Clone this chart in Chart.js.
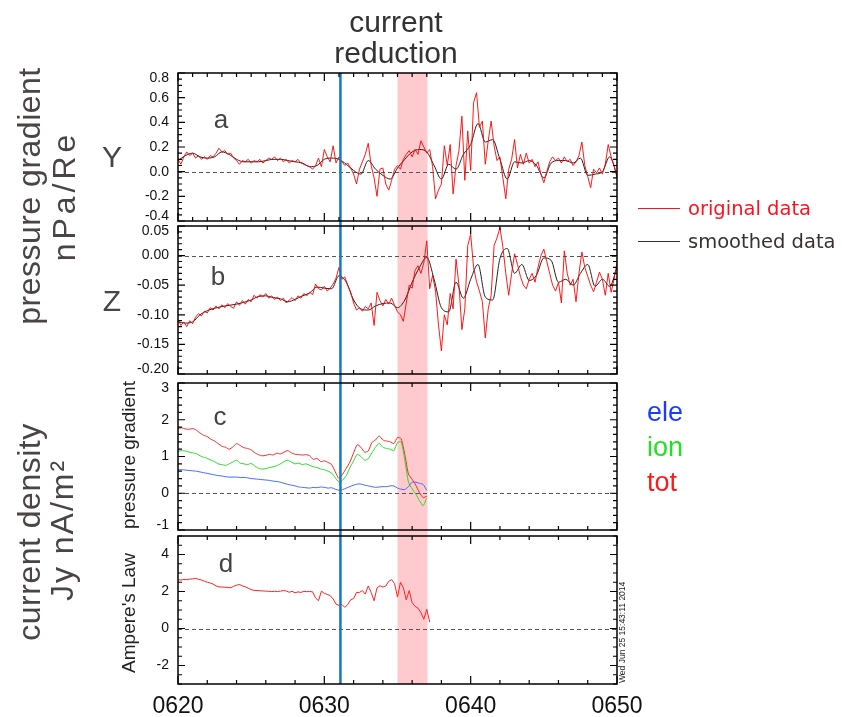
<!DOCTYPE html>
<html>
<head>
<meta charset="utf-8">
<script src="https://cdn.jsdelivr.net/npm/chart.js@4.4.2/dist/chart.umd.min.js"></script>
<style>
  html, body { margin: 0; padding: 0; background: #fff; }
  #wrap { position: relative; width: 842px; height: 717px; }
  #wrap canvas { position: absolute; left: 0; top: 0; }
</style>
</head>
<body>
<div id="wrap">
  <canvas id="pa" width="842" height="717"></canvas>
  <canvas id="pb" width="842" height="717"></canvas>
  <canvas id="pc" width="842" height="717"></canvas>
  <canvas id="pd" width="842" height="717"></canvas>
</div>
<script>
// minutes after 06:20 between samples
const STEP_ORIG = 0.2;
const STEP_SMOOTH = 0.5;
const STEP_PG = 0.25;

// panel a: Y pressure gradient, original and smoothed (nPa/Re)
const origY = [
  0.10, 0.06, 0.12, 0.16, 0.13, 0.15, 0.11, 0.13, 0.10, 0.12,
  0.10, 0.13, 0.12, 0.15, 0.19, 0.16, 0.17, 0.14, 0.15, 0.11,
  0.09, 0.06, 0.09, 0.08, 0.10, 0.07, 0.09, 0.08, 0.10, 0.07,
  0.09, 0.11, 0.10, 0.12, 0.09, 0.11, 0.08, 0.10, 0.07, 0.09,
  0.08, 0.10, 0.07, 0.06, 0.05, 0.04, 0.02, 0.05, 0.11, 0.04,
  0.18, 0.12, 0.08, 0.21, 0.07, 0.12, 0.08, 0.05, 0.07, 0.03,
  -0.02, -0.10, 0.02, 0.08, 0.14, 0.23, 0.05, -0.05, -0.20, 0.02,
  0.03, -0.10, -0.15, -0.07, 0.02, 0.05, 0.02, 0.10, 0.14, 0.17,
  0.12, 0.18, 0.14, 0.25, 0.20, 0.15, 0.18, 0.04, -0.22, -0.15,
  -0.10, 0.21, 0.05, 0.22, -0.18, 0.05, 0.17, 0.45, -0.07, 0.33,
  0.01, 0.56, 0.64, 0.36, 0.41, 0.06, 0.25, 0.41, 0.21, 0.09,
  0.12, -0.05, -0.22, 0.02, 0.10, 0.26, 0.03, 0.14, 0.06, 0.15,
  0.07, 0.10, 0.04, 0.08, -0.02, -0.09, 0.00, 0.08, 0.12, 0.09,
  0.11, 0.07, 0.12, 0.08, 0.10, 0.05, 0.08, 0.13, 0.24, 0.05,
  -0.04, -0.13, 0.02, -0.01, 0.03, -0.02, 0.06, 0.22, 0.12, 0.05,
  -0.05
];
const smoothY = [
  0.09, 0.13, 0.15, 0.12, 0.11, 0.12, 0.16, 0.14, 0.10, 0.08,
  0.08, 0.08, 0.09, 0.10, 0.10, 0.09, 0.08, 0.07, 0.04, 0.05,
  0.10, 0.11, 0.10, 0.06, 0.01, -0.02, 0.09, 0.02, -0.03, -0.06,
  0.03, 0.10, 0.16, 0.18, 0.16, 0.05, -0.06, 0.06, 0.02, 0.14,
  0.22, 0.39, 0.24, 0.26, 0.10, -0.06, 0.08, 0.07, 0.09, 0.05,
  -0.05, 0.07, 0.09, 0.09, 0.07, 0.11, -0.03, -0.02, 0.00, 0.12,
  -0.03
];

// panel b: Z pressure gradient
const origZ = [
  -0.108, -0.118, -0.112, -0.120, -0.110, -0.115, -0.104, -0.098, -0.102, -0.094,
  -0.097, -0.088, -0.092, -0.085, -0.090, -0.083, -0.088, -0.081, -0.086, -0.089,
  -0.078, -0.084, -0.076, -0.082, -0.074, -0.078, -0.067, -0.072, -0.066, -0.070,
  -0.064, -0.072, -0.068, -0.074, -0.070, -0.076, -0.072, -0.080, -0.075, -0.071,
  -0.076, -0.068, -0.072, -0.064, -0.068, -0.062, -0.066, -0.048, -0.056, -0.058,
  -0.052, -0.060, -0.055, -0.048, -0.038, -0.020, -0.040, -0.036, -0.050, -0.062,
  -0.080, -0.092, -0.088, -0.094, -0.086, -0.090, -0.080, -0.118, -0.062, -0.076,
  -0.085, -0.074, -0.082, -0.072, -0.084, -0.095, -0.100, -0.111, -0.080, -0.050,
  -0.055, -0.025, -0.017, -0.030, -0.012, 0.025, -0.056, -0.033, -0.060, -0.117,
  -0.161, -0.100, -0.117, -0.064, -0.090, -0.006, -0.050, -0.125, -0.090, 0.017,
  0.036, -0.020, -0.044, -0.060, -0.078, -0.139, -0.090, -0.067, 0.017, 0.030,
  0.047, 0.015, -0.030, -0.067, -0.030, 0.003, -0.015, -0.035, -0.050, -0.056,
  -0.040, -0.030, -0.045, -0.020, 0.000, 0.011, -0.010, -0.030, -0.050, -0.060,
  -0.045, -0.080, 0.008, -0.030, -0.050, -0.040, -0.078, -0.030, 0.006, -0.020,
  -0.035, -0.050, -0.061, -0.045, -0.028, -0.040, -0.067, -0.030, -0.062, -0.040,
  -0.011
];
const smoothZ = [
  -0.112, -0.114, -0.112, -0.100, -0.093, -0.089, -0.086, -0.084, -0.082, -0.079,
  -0.075, -0.069, -0.068, -0.071, -0.073, -0.078, -0.074, -0.068, -0.063, -0.053,
  -0.055, -0.056, -0.034, -0.045, -0.075, -0.090, -0.092, -0.085, -0.081, -0.080,
  -0.088, -0.075, -0.045, -0.020, -0.003, -0.040, -0.088, -0.095, -0.045, -0.072,
  -0.040, -0.015, -0.070, -0.075, -0.005, 0.012, -0.030, -0.015, -0.042, -0.033,
  -0.004, -0.008, -0.045, -0.040, -0.050, -0.030, -0.015, -0.052, -0.040, -0.052,
  -0.020
];

// panel c: current density from pressure gradient (nA/m^2)
const pgTot = [
  1.76, 1.78, 1.75, 1.74, 1.76, 1.72, 1.64, 1.58, 1.54, 1.47,
  1.42, 1.35, 1.28, 1.25, 1.20, 1.26, 1.35, 1.30, 1.24, 1.22,
  1.18, 1.10, 1.05, 1.02, 1.03, 1.06, 1.04, 1.09, 1.07, 1.12,
  1.16, 1.10, 1.06, 1.05, 1.04, 1.05, 1.02, 0.92, 0.95, 0.86,
  0.88, 0.84, 0.78, 0.58, 0.40, 0.52, 0.68, 0.85, 1.10, 1.32,
  1.25, 1.12, 1.15, 1.38, 1.45, 1.56, 1.45, 1.42, 1.40, 1.35,
  1.52, 1.48, 1.05, 0.52, 0.38, 0.22, 0.02, -0.12,
  -0.08
];
const pgIon = [
  1.14, 1.16, 1.15, 1.12, 1.10, 1.08, 1.02, 0.98, 0.95, 0.90,
  0.86, 0.80, 0.78, 0.76, 0.80, 0.85, 0.90, 0.82, 0.80, 0.78,
  0.81, 0.74, 0.68, 0.66, 0.67, 0.70, 0.72, 0.75, 0.80, 0.86,
  0.90, 0.85, 0.80, 0.82, 0.78, 0.80, 0.76, 0.72, 0.70, 0.66,
  0.64, 0.60, 0.55, 0.42, 0.31, 0.36, 0.48, 0.70, 0.88, 1.06,
  1.00, 0.90, 0.94, 1.10, 1.25, 1.36, 1.25, 1.22, 1.20, 1.16,
  1.38, 1.40, 0.90, 0.30, 0.12, -0.02, -0.20, -0.34,
  -0.12
];
const pgEle = [
  0.64, 0.64, 0.63, 0.62, 0.61, 0.60, 0.58, 0.56, 0.54, 0.52,
  0.50, 0.48, 0.47, 0.45, 0.44, 0.44, 0.44, 0.43, 0.43, 0.42,
  0.40, 0.39, 0.38, 0.37, 0.36, 0.35, 0.33, 0.32, 0.30, 0.27,
  0.24, 0.22, 0.20, 0.17, 0.16, 0.15, 0.14, 0.16, 0.15, 0.17,
  0.16, 0.14, 0.15, 0.11, 0.08, 0.10, 0.14, 0.18, 0.22, 0.25,
  0.25, 0.22, 0.20, 0.18, 0.16, 0.17, 0.18, 0.18, 0.20, 0.20,
  0.14, 0.11, 0.10, 0.18, 0.30, 0.30, 0.27, 0.24,
  0.08
];

// panel d: current density from Ampere's law (nA/m^2)
const ampereJy = [
  2.64, 2.62, 2.65, 2.64, 2.67, 2.68, 2.71, 2.66, 2.62, 2.56,
  2.50, 2.46, 2.40, 2.30, 2.25, 2.24, 2.23, 2.22, 2.20, 2.28,
  2.34, 2.38, 2.30, 2.25, 2.18, 2.10, 2.06, 2.05, 2.04, 2.03,
  2.02, 2.01, 2.00, 2.01, 2.00, 2.02, 2.05, 2.03, 1.96, 2.01,
  1.93, 1.98, 1.95, 2.01, 1.99, 2.00, 1.98, 1.65, 1.50, 2.02,
  1.90, 1.84, 1.78, 1.60, 1.32, 1.25, 1.30, 1.14, 1.30, 1.55,
  1.62, 1.95, 1.95, 2.05, 1.86, 2.30, 1.95, 1.50, 2.20, 2.31,
  2.24, 2.30, 2.55, 2.64, 2.42, 1.70, 2.50, 2.20, 1.55, 2.05,
  1.40, 1.20, 1.10, 0.86, 0.50, 1.04, 0.35
];

const xTickMinutes = [0, 10, 20, 30];
const xTickLabels = ['0620', '0630', '0640', '0650'];
const yTicksA = [-0.4, -0.2, 0.0, 0.2, 0.4, 0.6, 0.8];
const yTicksB = [-0.20, -0.15, -0.10, -0.05, 0.00, 0.05];
const yTicksC = [-1, 0, 1, 2, 3];
const yTicksD = [-2, 0, 2, 4];

const onsetMinute = 11.1;
const reductionStart = 15.0;
const reductionEnd = 17.05;

const FONT = '"Liberation Sans", Arial, Helvetica, sans-serif';

const toXY = (vals, step) => vals.map((v, i) => ({ x: i * step, y: v }));

function vText(ctx, str, x, y, align, spacing) {
  ctx.save();
  ctx.translate(x, y);
  ctx.rotate(-Math.PI / 2);
  ctx.textAlign = align || 'center';
  ctx.letterSpacing = (spacing || 0) + 'px';
  ctx.fillText(str, 0, 0);
  ctx.restore();
}

function drawPage(ctx) {
  ctx.save();
  ctx.textBaseline = 'alphabetic';

  ctx.fillStyle = '#333';
  ctx.font = '30px ' + FONT;
  ctx.textAlign = 'center';
  ctx.fillText('current', 396, 32);
  ctx.fillText('reduction', 396, 63);

  ctx.fillStyle = '#4a4444';
  ctx.font = '32px ' + FONT;
  vText(ctx, 'pressure gradient', 40, 196, 'center', 0.5);
  vText(ctx, 'nPa/Re', 75, 196, 'center', 4);
  vText(ctx, 'current density', 40, 532, 'center', 0.5);
  vText(ctx, 'Jy nA/m²', 73, 530, 'center', 2);

  ctx.font = '30px ' + FONT;
  ctx.textAlign = 'center';
  ctx.fillText('Y', 112, 167);
  ctx.fillText('Z', 112, 311);

  ctx.fillStyle = '#222';
  ctx.font = '19px ' + FONT;
  vText(ctx, 'pressure gradient', 135, 455);
  vText(ctx, "Ampere's Law", 135, 613);

  ctx.fillStyle = '#444';
  ctx.font = '26px ' + FONT;
  ctx.textAlign = 'center';
  ctx.fillText('a', 221, 128);
  ctx.fillText('b', 218, 285);
  ctx.fillText('c', 220, 425);
  ctx.fillText('d', 226, 572);

  ctx.textAlign = 'left';
  ctx.font = '27px ' + FONT;
  ctx.fillStyle = '#1a3cff';
  ctx.fillText('ele', 647, 421);
  ctx.fillStyle = '#22e022';
  ctx.fillText('ion', 647, 456);
  ctx.fillStyle = '#ff1a1a';
  ctx.fillText('tot', 647, 491);

  ctx.lineWidth = 1;
  ctx.strokeStyle = '#ff1020';
  ctx.beginPath(); ctx.moveTo(638, 208.5); ctx.lineTo(680, 208.5); ctx.stroke();
  ctx.strokeStyle = '#3a3030';
  ctx.beginPath(); ctx.moveTo(638, 241.5); ctx.lineTo(680, 241.5); ctx.stroke();
  ctx.font = '19.5px "DejaVu Sans", sans-serif';
  ctx.fillStyle = '#ff1020';
  ctx.fillText('original data', 688, 215);
  ctx.fillStyle = '#3a3030';
  ctx.fillText('smoothed data', 688, 248);

  ctx.fillStyle = '#222';
  ctx.font = '8.5px ' + FONT;
  vText(ctx, 'Wed Jun 25 15:43:11 2014', 625, 683, 'left');
  ctx.restore();
}

function panelPlugin(p) {
  return {
    id: 'panel_' + p.name,
    beforeDatasetsDraw(chart) {
      const { ctx, chartArea: a, scales: { x, y } } = chart;
      ctx.save();
      const bx0 = x.getPixelForValue(reductionStart);
      const bx1 = x.getPixelForValue(reductionEnd);
      ctx.fillStyle = '#ffcacd';
      ctx.fillRect(bx0, a.top, bx1 - bx0, p.below - a.top);
      const y0 = Math.round(y.getPixelForValue(0)) + 0.5;
      ctx.strokeStyle = '#555';
      ctx.lineWidth = 1;
      ctx.setLineDash([4, 3]);
      ctx.beginPath();
      ctx.moveTo(a.left, y0);
      ctx.lineTo(a.right, y0);
      ctx.stroke();
      ctx.restore();
    },
    afterDatasetsDraw(chart) {
      const { ctx, chartArea: a, scales: { x, y } } = chart;
      ctx.save();
      // onset line
      const ox = x.getPixelForValue(onsetMinute);
      ctx.strokeStyle = '#1479bd';
      ctx.lineWidth = 2.5;
      ctx.beginPath();
      ctx.moveTo(ox, a.top);
      ctx.lineTo(ox, p.below);
      ctx.stroke();

      // frame
      ctx.strokeStyle = '#000';
      ctx.lineWidth = 1.5;
      ctx.strokeRect(a.left, a.top, a.right - a.left, a.bottom - a.top);

      // y ticks, both sides, pointing in
      ctx.lineWidth = 1.2;
      ctx.beginPath();
      const n = Math.round((p.max - p.min) / p.minor);
      for (let i = 0; i <= n; i++) {
        const v = p.min + i * p.minor;
        const r = v / p.major;
        const len = Math.abs(r - Math.round(r)) < 1e-6 ? 7 : 4;
        const py = y.getPixelForValue(v);
        ctx.moveTo(a.left, py); ctx.lineTo(a.left + len, py);
        ctx.moveTo(a.right, py); ctx.lineTo(a.right - len, py);
      }
      // x ticks, top and bottom
      for (let m = 0; m <= 30; m += p.xMinor) {
        const len = m % 10 === 0 ? 8 : 4;
        const px = x.getPixelForValue(m);
        ctx.moveTo(px, a.top); ctx.lineTo(px, a.top + len);
        ctx.moveTo(px, a.bottom); ctx.lineTo(px, a.bottom - len);
      }
      ctx.stroke();

      // y labels
      ctx.fillStyle = '#111';
      ctx.font = '14px ' + FONT;
      ctx.textAlign = 'right';
      ctx.textBaseline = 'middle';
      p.ticks.forEach(v => {
        let py = y.getPixelForValue(v);
        if (Math.abs(v - p.max) < 1e-9) py += 5;
        if (Math.abs(v - p.min) < 1e-9) py -= 5;
        ctx.fillText(v.toFixed(p.dec), a.left - 9, py);
      });

      if (p.xLabels) {
        ctx.font = '23px ' + FONT;
        ctx.textAlign = 'center';
        ctx.textBaseline = 'alphabetic';
        xTickMinutes.forEach((m, i) => {
          ctx.fillText(xTickLabels[i], x.getPixelForValue(m), 713);
        });
      }
      ctx.restore();
    },
    afterDraw(chart) {
      if (p.page) drawPage(chart.ctx);
    }
  };
}

function makePanel(id, p, datasets) {
  return new Chart(document.getElementById(id), {
    type: 'line',
    data: { datasets },
    options: {
      responsive: false,
      animation: false,
      events: [],
      layout: { padding: { left: 178, right: 842 - 617, top: p.top, bottom: 717 - p.bottom } },
      elements: { point: { radius: 0 }, line: { borderWidth: 1 } },
      scales: {
        x: { type: 'linear', min: 0, max: 30, display: false },
        y: { type: 'linear', min: p.min, max: p.max, display: false }
      },
      plugins: { legend: { display: false }, tooltip: { enabled: false } }
    },
    plugins: [panelPlugin(p)]
  });
}

makePanel('pa',
  { name: 'a', top: 73, bottom: 221, below: 226, min: -0.4, max: 0.8, minor: 0.05, major: 0.2, xMinor: 1, ticks: yTicksA, dec: 1 },
  [
    { data: toXY(origY, STEP_ORIG), borderColor: 'rgba(255,0,0,0.9)', tension: 0 },
    { data: toXY(smoothY, STEP_SMOOTH), borderColor: '#222', cubicInterpolationMode: 'monotone' }
  ]);

makePanel('pb',
  { name: 'b', top: 226, bottom: 374, below: 383, min: -0.2, max: 0.05, minor: 0.01, major: 0.05, xMinor: 2, ticks: yTicksB, dec: 2 },
  [
    { data: toXY(origZ, STEP_ORIG), borderColor: 'rgba(255,0,0,0.9)', tension: 0 },
    { data: toXY(smoothZ, STEP_SMOOTH), borderColor: '#222', cubicInterpolationMode: 'monotone' }
  ]);

makePanel('pc',
  { name: 'c', top: 383, bottom: 530, below: 536, min: -1, max: 3, minor: 0.2, major: 1, xMinor: 2, ticks: yTicksC, dec: 0 },
  [
    { data: toXY(pgEle, STEP_PG), borderColor: '#4466ff', tension: 0.2 },
    { data: toXY(pgIon, STEP_PG), borderColor: '#22dd22', tension: 0.2 },
    { data: toXY(pgTot, STEP_PG), borderColor: '#ff2222', tension: 0.2 }
  ]);

makePanel('pd',
  { name: 'd', top: 536, bottom: 684, below: 684, min: -3, max: 5, minor: 0.5, major: 2, xMinor: 2, ticks: yTicksD, dec: 0, xLabels: true, page: true },
  [
    { data: toXY(ampereJy, STEP_ORIG), borderColor: '#ff2020', tension: 0 }
  ]);
</script>
</body>
</html>
